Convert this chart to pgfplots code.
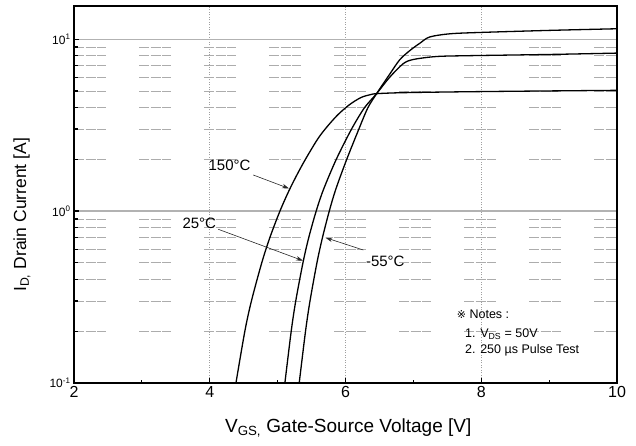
\documentclass[border=0pt]{standalone}
\usepackage{pgfplots}
\pgfplotsset{compat=1.18}
\usepackage{fontspec}
\setmainfont{Liberation Sans}
\newfontfamily\djv{DejaVu Sans}
\usetikzlibrary{arrows.meta}
\begin{document}
\begin{tikzpicture}[x=1pt,y=1pt]
\useasboundingbox (0,0) rectangle (636,446);
\begin{axis}[
  at={(74pt,63pt)}, anchor=south west,
  width=543pt, height=377pt, scale only axis,
  xmin=2, xmax=10, ymode=log, ymin=0.1, ymax=15.6,
  enlargelimits=false,
  xtick={2,4,6,8,10}, minor xtick={3,5,7,9},
  ytick={0.1,1,10},
  yticklabels={10\textsuperscript{-1},10\textsuperscript{0},10\textsuperscript{1}},
  minor ytick={0.2,0.3,0.4,0.5,0.6,0.7,0.8,0.9,2,3,4,5,6,7,8,9},
  /pgf/number format/assume math mode=true,
  xticklabel style={font=\fontsize{16}{18}\selectfont},
  yticklabel style={font=\fontsize{12}{14}\selectfont},
  tick align=inside,
  xtick pos=bottom, ytick pos=left,
  major tick length=5pt, minor tick length=3.5pt,
  tick style={line width=1.2pt, black},
  axis line style={line width=1.6pt, black},
  xmajorgrids, ymajorgrids, yminorgrids,
  major x grid style={gray!75, line width=0.6pt, dash pattern=on 1pt off 1.5pt},
  major y grid style={gray!60, line width=1.2pt, solid},
  minor y grid style={gray!65, line width=0.8pt, dash pattern=on 10pt off 1.5pt on 10pt off 1.5pt on 9pt off 33pt},
  xlabel={V\textsubscript{GS,} Gate-Source Voltage [V]},
  ylabel={I\textsubscript{D,} Drain Current [A]},
  every axis x label/.style={at={(axis description cs:0.505,-0.119)}, anchor=center, font=\fontsize{19}{22}\selectfont},
  every axis y label/.style={at={(axis description cs:-0.0958,0.446)}, rotate=90, anchor=center, font=\fontsize{17.5}{20}\selectfont},
]
% 150 C
\addplot[black, line width=1.3pt, smooth] table {
4.386 0.1
4.517 0.2
4.614 0.3
4.766 0.5
4.885 0.7
5.034 1.0
5.188 1.367
5.374 1.89
5.586 2.61
5.730 3.10
5.889 3.64
6.059 4.16
6.224 4.57
6.359 4.75
6.458 4.82
6.80 4.88
7.5 4.93
8.5 4.98
10 5.04
};
% 25 C
\addplot[black, line width=1.3pt, smooth] table {
5.107 0.1
5.200 0.2
5.267 0.3
5.373 0.5
5.458 0.7
5.568 1.0
5.677 1.34
5.864 2.0
6.085 2.98
6.277 3.98
6.458 4.82
6.65 6.0
6.85 7.2
7.00 7.62
7.34 7.93
7.83 8.02
9.0 8.15
10 8.3
};
% -55 C
\addplot[black, line width=1.3pt, smooth] table {
5.318 0.1
5.411 0.2
5.477 0.3
5.579 0.5
5.660 0.7
5.761 1.0
5.857 1.34
6.018 2.0
6.194 2.98
6.328 3.98
6.458 4.82
6.65 6.25
6.80 7.6
6.95 8.6
7.10 9.5
7.24 10.3
7.54 10.75
8.0 10.95
9.0 11.25
10 11.5
};
\end{axis}
% curve labels and arrows
\node[font=\fontsize{15}{17}\selectfont, inner sep=0] at (229.5,280.7) {150°C};
\node[font=\fontsize{15}{17}\selectfont, inner sep=0] at (199.3,222.3) {25°C};
\node[font=\fontsize{15}{17}\selectfont, inner sep=0] at (385.3,184.3) {-55°C};
\draw[-{Stealth[length=7pt,width=4.5pt]}, line width=0.6pt, black!85] (253.3,271) -- (289,257.5);
\draw[-{Stealth[length=7pt,width=4.5pt]}, line width=0.6pt, black!85] (218.3,216.7) -- (303,185.3);
\draw[-{Stealth[length=7pt,width=4.5pt]}, line width=0.6pt, black!85] (363.3,196) -- (325.5,208.3);
% notes
\node[anchor=base west, inner sep=0, font=\fontsize{12.5}{15}\selectfont] at (456.7,127.7) {{\djv\fontsize{11}{12}\selectfont ※} Notes :};
\node[anchor=base west, inner sep=0, font=\fontsize{12.5}{15}\selectfont] at (465,108.7) {1. V\textsubscript{DS} = 50V};
\node[anchor=base west, inner sep=0, font=\fontsize{12.5}{15}\selectfont] at (465,92) {2. 250 µs Pulse Test};
\end{tikzpicture}
\end{document}
